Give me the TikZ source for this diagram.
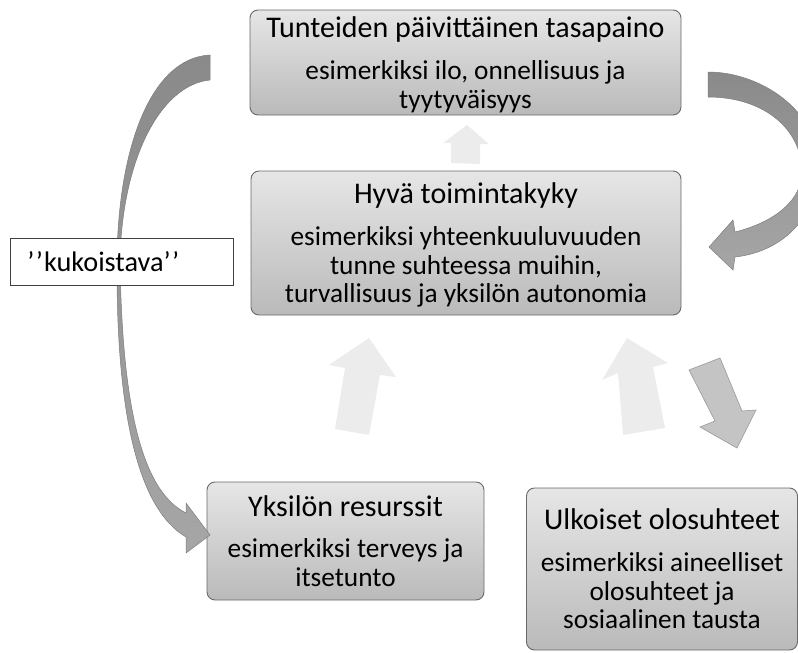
\documentclass[tikz,border=0pt]{standalone}
\usepackage{fontspec}
\setmainfont{Carlito}
\usetikzlibrary{positioning}
\definecolor{boxtop}{RGB}{230,230,230}
\definecolor{boxbottom}{RGB}{186,186,186}
\definecolor{boxedge}{RGB}{105,105,105}
\definecolor{curvegray}{RGB}{138,138,138}
\definecolor{curvelight}{RGB}{166,166,166}
\definecolor{paleup}{RGB}{236,236,236}
\definecolor{downgray}{RGB}{196,196,196}
\newcommand{\headfont}{\fontsize{30}{33}\selectfont}
\newcommand{\bodyfont}{\fontsize{27.3}{28.7}\selectfont}

\begin{document}
\begin{tikzpicture}[x=1pt,y=-1pt,
    panel/.style={draw=boxedge, line width=0.9pt, rounded corners=8pt, top color=boxtop, bottom color=boxbottom, align=center, font=\bodyfont, inner sep=0pt, text depth=-3pt},
    tag/.style={draw=black!75, line width=0.8pt, fill=white, font=\fontsize{28.3}{30}\selectfont, inner xsep=17pt, text width=189pt, align=left, minimum height=47pt},
    curved/.style={top color=curvegray, bottom color=curvelight, draw=curvegray!90!black, line width=0.5pt},
    pale/.style={fill=paleup},
    darkblock/.style={fill=downgray, draw=black!40, line width=0.6pt}
  ]
  \useasboundingbox (0,0) rectangle (798,653);
  \clip (0,0) rectangle (798,653);

  \node[panel, minimum width=431pt, minimum height=105pt] (tunteet) at (465.5,62.5) {{\headfont Tunteiden päivittäinen tasapaino}\\[13pt]esimerkiksi ilo, onnellisuus ja\\tyytyväisyys};
  \node[panel, minimum width=430pt, minimum height=144pt] (toiminta) at (466,243) {{\headfont Hyvä toimintakyky}\\[13pt]esimerkiksi yhteenkuuluvuuden\\tunne suhteessa muihin,\\turvallisuus ja yksilön autonomia};
  \node[panel, minimum width=277pt, minimum height=118pt] (resurssit) at (345.5,541) {{\headfont Yksilön resurssit}\\[13pt]esimerkiksi terveys ja\\itsetunto};
  \node[panel, minimum width=271pt, minimum height=162pt] (olot) at (662,569) {{\headfont Ulkoiset olosuhteet}\\[13pt]esimerkiksi aineelliset\\olosuhteet ja\\sosiaalinen tausta};

  \path[curved] (210,55) .. controls (150,58) and (118,150) .. (117,260) .. controls (116,420) and (140,510) .. (186,537) -- (186,553) -- (210,535) -- (186,503) -- (186,513) .. controls (140,490) and (122,400) .. (120,260) .. controls (122,160) and (160,85) .. (210,80) -- cycle;
  \path[curved] (708,72) .. controls (760,72) and (818,110) .. (818,165) .. controls (818,220) and (780,252) .. (735,257) -- (733,270) -- (709,247) -- (733,220) -- (735,232) .. controls (775,222) and (802,200) .. (802,172) .. controls (802,130) and (765,97) .. (708,97) -- cycle;

  \path[pale] (467,125) -- (489,144) -- (480,144) -- (480,164) -- (451,163) -- (451,143) -- (443,143) -- cycle;
  \path[pale] (369,338) -- (396,377) -- (380,375) -- (369,435) -- (335,429) -- (345,368) -- (329,365) -- cycle;
  \path[pale] (627,338) -- (668,363) -- (653,367) -- (665,428) -- (623,435) -- (618,373) -- (602,380) -- cycle;
  \path[darkblock] (689,370) -- (720,358) -- (742,411) -- (756,410) -- (737,448) -- (700,427) -- (715,421) -- cycle;

  \node[tag, anchor=west] (kukoistava) at (10,261.5) {’\kern1.5pt’\kern1pt kukoistava’\kern1.5pt’};
\end{tikzpicture}
\end{document}
